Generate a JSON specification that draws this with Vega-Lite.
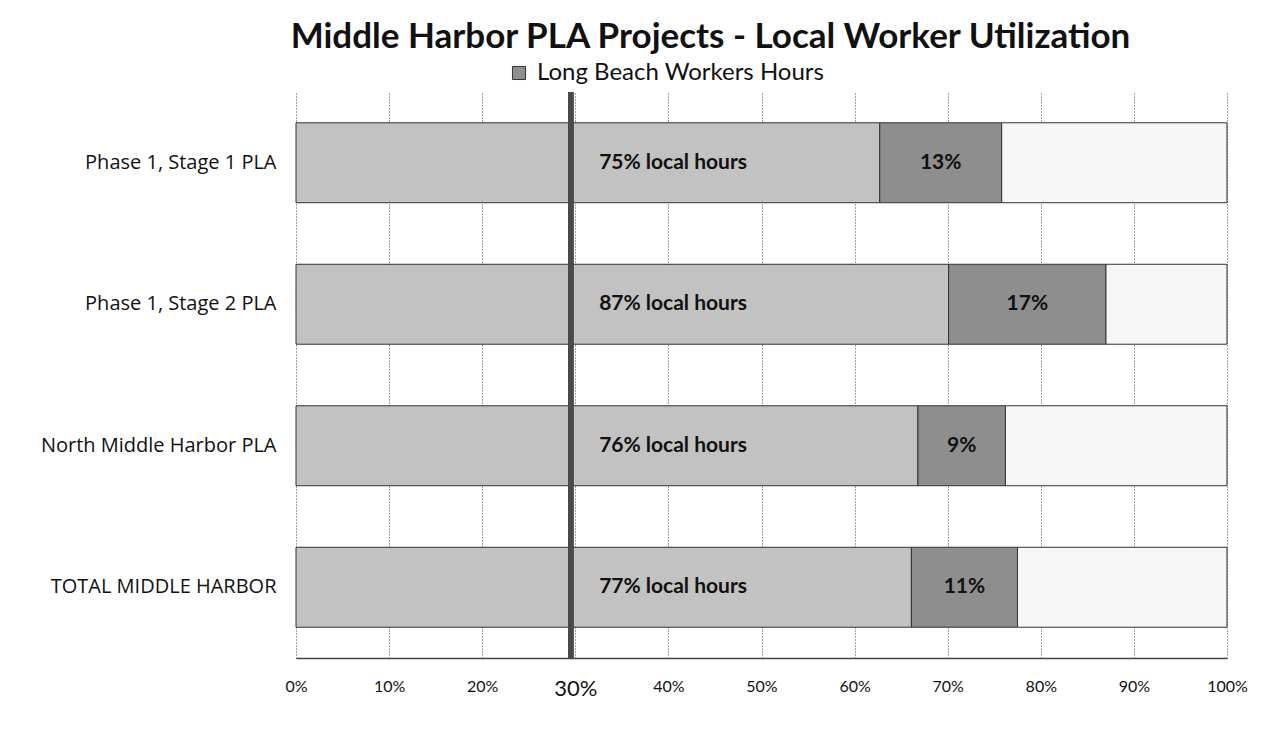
{
  "$schema": "https://vega.github.io/schema/vega-lite/v6.json",
  "width": 931,
  "height": 566,
  "autosize": {"type": "none"},
  "padding": {"left": 296, "top": 92, "right": 47, "bottom": 94},
  "background": "white",
  "title": {
    "text": "Middle Harbor PLA Projects - Local Worker Utilization",
    "font": "Lato",
    "fontSize": 35,
    "fontWeight": "bold",
    "color": "#111111",
    "anchor": "middle",
    "frame": "group",
    "dx": -51,
    "offset": 6
  },
  "config": {"view": {"stroke": null}, "font": "Lato"},
  "data": {
    "values": [
      {"project": "Phase 1, Stage 1 PLA", "segment": "Other Local Workers Hours", "seg_order": 1, "value": 62.7, "local_label": "75% local hours"},
      {"project": "Phase 1, Stage 1 PLA", "segment": "Long Beach Workers Hours", "seg_order": 2, "value": 13.1, "local_label": "75% local hours"},
      {"project": "Phase 1, Stage 1 PLA", "segment": "Non-Local Workers Hours", "seg_order": 3, "value": 24.2, "local_label": "75% local hours"},
      {"project": "Phase 1, Stage 2 PLA", "segment": "Other Local Workers Hours", "seg_order": 1, "value": 70.1, "local_label": "87% local hours"},
      {"project": "Phase 1, Stage 2 PLA", "segment": "Long Beach Workers Hours", "seg_order": 2, "value": 16.9, "local_label": "87% local hours"},
      {"project": "Phase 1, Stage 2 PLA", "segment": "Non-Local Workers Hours", "seg_order": 3, "value": 13.0, "local_label": "87% local hours"},
      {"project": "North Middle Harbor PLA", "segment": "Other Local Workers Hours", "seg_order": 1, "value": 66.8, "local_label": "76% local hours"},
      {"project": "North Middle Harbor PLA", "segment": "Long Beach Workers Hours", "seg_order": 2, "value": 9.4, "local_label": "76% local hours"},
      {"project": "North Middle Harbor PLA", "segment": "Non-Local Workers Hours", "seg_order": 3, "value": 23.8, "local_label": "76% local hours"},
      {"project": "TOTAL MIDDLE HARBOR", "segment": "Other Local Workers Hours", "seg_order": 1, "value": 66.1, "local_label": "77% local hours"},
      {"project": "TOTAL MIDDLE HARBOR", "segment": "Long Beach Workers Hours", "seg_order": 2, "value": 11.4, "local_label": "77% local hours"},
      {"project": "TOTAL MIDDLE HARBOR", "segment": "Non-Local Workers Hours", "seg_order": 3, "value": 22.5, "local_label": "77% local hours"}
    ]
  },
  "layer": [
    {
      "mark": {"type": "bar", "stroke": "#333333", "strokeWidth": 1},
      "encoding": {
        "y": {
          "field": "project",
          "type": "nominal",
          "sort": ["Phase 1, Stage 1 PLA", "Phase 1, Stage 2 PLA", "North Middle Harbor PLA", "TOTAL MIDDLE HARBOR"],
          "scale": {"paddingInner": 0.435, "paddingOuter": 0.2175},
          "axis": {
            "title": null,
            "domain": false,
            "ticks": false,
            "labelFont": "Open Sans",
            "labelFontSize": 20,
            "labelColor": "#111111",
            "labelPadding": 20,
            "labelLimit": 300
          }
        },
        "x": {
          "field": "value",
          "type": "quantitative",
          "stack": "zero",
          "scale": {"domain": [0, 100], "nice": false},
          "axis": {
            "title": null,
            "values": [0, 10, 20, 30, 40, 50, 60, 70, 80, 90, 100],
            "labelExpr": "datum.value + '%'",
            "labelFlush": false,
            "grid": true,
            "gridDash": [1, 2],
            "gridColor": "#444444",
            "gridWidth": 1,
            "domainColor": "#444444",
            "domainWidth": 1.5,
            "ticks": false,
            "labelPadding": 20,
            "labelFont": "Lato",
            "labelColor": "#111111",
            "labelFontSize": {"condition": {"test": "datum.value == 30", "value": 22}, "value": 16}
          }
        },
        "color": {
          "field": "segment",
          "type": "nominal",
          "scale": {
            "domain": ["Other Local Workers Hours", "Long Beach Workers Hours", "Non-Local Workers Hours"],
            "range": ["#c2c2c2", "#8e8e8e", "#f6f6f6"]
          },
          "legend": {
            "values": ["Long Beach Workers Hours"],
            "title": null,
            "orient": "none",
            "legendX": 211,
            "legendY": -31,
            "direction": "horizontal",
            "symbolType": "square",
            "symbolSize": 170,
            "symbolStrokeColor": "#333333",
            "symbolStrokeWidth": 1,
            "labelFont": "Lato",
            "labelFontSize": 24,
            "labelColor": "#111111",
            "labelOffset": 6,
            "labelLimit": 500
          }
        },
        "order": {"field": "seg_order"}
      }
    },
    {
      "mark": {"type": "rule", "color": "#4a4a4a", "strokeWidth": 5},
      "encoding": {"x": {"datum": 29.5}}
    },
    {
      "transform": [{"filter": "datum.seg_order == 1"}],
      "mark": {"type": "text", "fontWeight": "bold", "fontSize": 21, "color": "#111111", "font": "Lato"},
      "encoding": {
        "y": {"field": "project", "type": "nominal", "sort": ["Phase 1, Stage 1 PLA", "Phase 1, Stage 2 PLA", "North Middle Harbor PLA", "TOTAL MIDDLE HARBOR"]},
        "x": {"datum": 40.5},
        "text": {"field": "local_label"}
      }
    },
    {
      "transform": [
        {"stack": "value", "groupby": ["project"], "sort": [{"field": "seg_order"}], "as": ["x0", "x1"]},
        {"filter": "datum.seg_order == 2"},
        {"calculate": "(datum.x0 + datum.x1) / 2", "as": "mid"},
        {"calculate": "format(datum.value, '.0f') + '%'", "as": "lbl"}
      ],
      "mark": {"type": "text", "fontWeight": "bold", "fontSize": 21, "color": "#111111", "font": "Lato"},
      "encoding": {
        "y": {"field": "project", "type": "nominal", "sort": ["Phase 1, Stage 1 PLA", "Phase 1, Stage 2 PLA", "North Middle Harbor PLA", "TOTAL MIDDLE HARBOR"]},
        "x": {"field": "mid", "type": "quantitative"},
        "text": {"field": "lbl"}
      }
    }
  ]
}
